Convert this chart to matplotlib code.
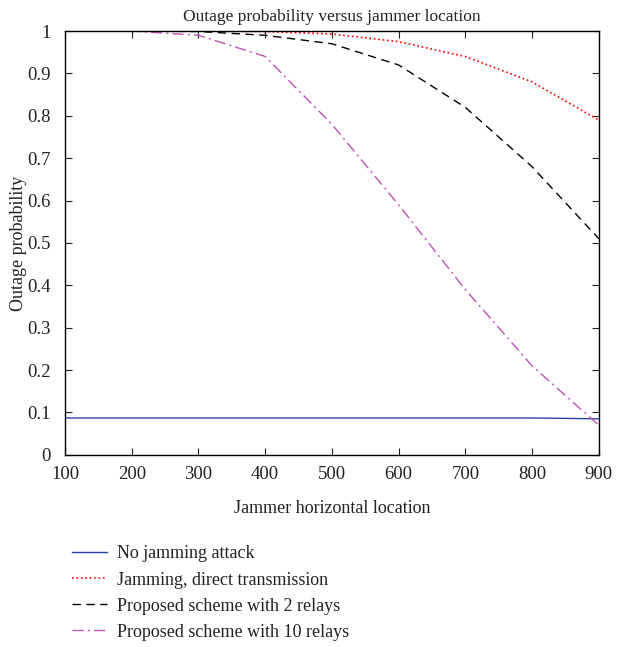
import matplotlib
matplotlib.use('Agg')
import matplotlib.pyplot as plt

plt.rcParams['font.family'] = ['Liberation Serif', 'DejaVu Serif']

# Jammer horizontal location
location = [100, 200, 300, 400, 500, 600, 700, 800, 900]

# Outage probability per scheme
no_jamming = [0.087, 0.087, 0.087, 0.087, 0.087, 0.087, 0.087, 0.087, 0.085]
direct_tx = [1.0, 1.0, 1.0, 0.999, 0.993, 0.975, 0.94, 0.88, 0.79]
relays_2 = [1.0, 1.0, 0.999, 0.99, 0.97, 0.92, 0.82, 0.68, 0.51]
relays_10 = [1.0, 1.0, 0.99, 0.94, 0.78, 0.59, 0.39, 0.21, 0.07]

labels = ['No jamming attack', 'Jamming, direct transmission',
          'Proposed scheme with 2 relays', 'Proposed scheme with 10 relays']

fig = plt.figure(figsize=(6.37, 6.47), dpi=100)
ax = fig.add_axes([0.102, 0.297, 0.838, 0.655])

ax.plot(location, no_jamming, color='#2940a8', linestyle='-', linewidth=1.0, label=labels[0])
ax.plot(location, direct_tx, color='red', linestyle=':', linewidth=1.2, label=labels[1])
ax.plot(location, relays_2, color='black', linestyle=(0, (6, 4)), linewidth=1.0, label=labels[2])
ax.plot(location, relays_10, color='#c050b8', linestyle=(0, (8, 3, 1.5, 3)), linewidth=1.0, label=labels[3])

ax.set_xlim(100, 900)
ax.set_ylim(0, 1)
ax.set_xticks(range(100, 1000, 100))
ax.set_yticks([i / 10 for i in range(11)])
ax.set_yticklabels(['0', '0.1', '0.2', '0.3', '0.4', '0.5', '0.6', '0.7', '0.8', '0.9', '1'])
ax.tick_params(direction='in', top=True, right=True, labelsize=13.5, length=5, colors='#222222')
ax.tick_params(axis='x', pad=8)
ax.tick_params(axis='y', pad=10)
for s in ax.spines.values():
    s.set_linewidth(1.0)

ax.set_title('Outage probability versus jammer location', fontsize=12.5, color='#222222', pad=7)
ax.set_xlabel('Jammer horizontal location', fontsize=13, color='#222222', labelpad=12)
ax.set_ylabel('Outage probability', fontsize=13, color='#222222')
ax.yaxis.set_label_coords(-0.072, 0.5)

fig.legend(loc='upper left', bbox_to_anchor=(0.088, 0.182), frameon=False,
           fontsize=13, handlelength=1.9, labelspacing=0.5, handletextpad=0.6,
           labelcolor='#222222')

fig.savefig('out.png', dpi=100)
